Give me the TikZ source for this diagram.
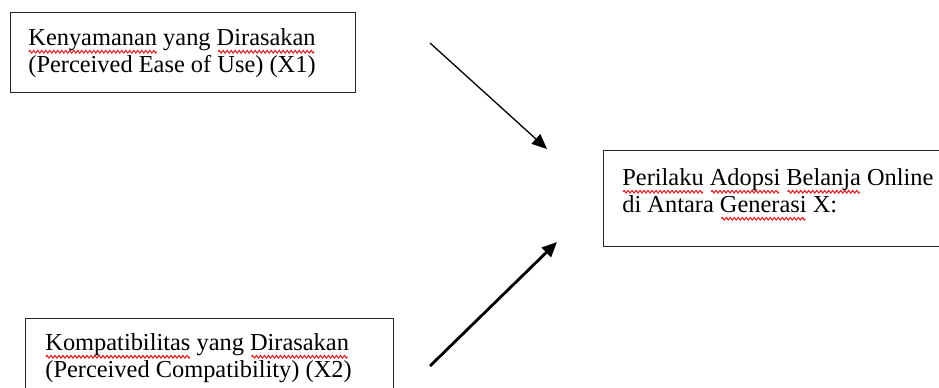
\documentclass[tikz,border=0pt]{standalone}
\usepackage{fontspec}
\setmainfont{Liberation Serif}
\usetikzlibrary{arrows.meta}
\definecolor{wavered}{RGB}{225,35,35}
\newsavebox\wavebox
% red wavy underline for flagged words
\newcommand\flagword[1]{\setbox0=\hbox{#1}\leavevmode
  \rlap{\lower3.2pt\hbox to \wd0{\cleaders\copy\wavebox\hfill}}\box0\relax}
\tikzset{
  frame/.style={draw=black!85, line width=0.6pt, anchor=north west, inner sep=0pt},
  label/.style={anchor=north west, inner sep=0pt, align=left,
                font=\fontsize{12.2}{13.5}\selectfont},
  thinlink/.style={line width=0.65pt, -{Triangle[length=7.5pt,width=6.5pt]}},
  boldlink/.style={line width=1.4pt, -{Triangle[length=7.5pt,width=6.5pt]}}
}
\begin{document}
% one period of the wave, 2pt wide
\savebox\wavebox{\pgfpicture
  \pgfpathrectangle{\pgfpointorigin}{\pgfpoint{2pt}{0pt}}
  \pgfusepath{use as bounding box}
  \pgfsetlinewidth{0.55pt}\pgfsetstrokecolor{wavered}
  \pgfpathmoveto{\pgfpointorigin}
  \pgfpathsine{\pgfpoint{0.5pt}{0.65pt}}
  \pgfpathcosine{\pgfpoint{0.5pt}{-0.65pt}}
  \pgfpathsine{\pgfpoint{0.5pt}{-0.65pt}}
  \pgfpathcosine{\pgfpoint{0.5pt}{0.65pt}}
  \pgfusepath{stroke}
\endpgfpicture}
\begin{tikzpicture}[x=0.5pt,y=-0.5pt]
\useasboundingbox (0,0) rectangle (939,387);
\clip (0,0) rectangle (939,387);
\fill[white] (0,0) rectangle (939,387);

% frames
\node[frame, minimum width=172.5pt, minimum height=40pt] (b1) at (10,12) {};
\node[frame, minimum width=175pt, minimum height=48pt] (b2) at (603,150) {};
\node[frame, minimum width=184pt, minimum height=45pt] (b3) at (25,318) {};

% texts
\node[label] (t1) at (28,28) {\flagword{Kenyamanan} yang \flagword{Dirasakan}\\(Perceived Ease of Use) (X1)};
\node[label] (t2) at (622,168) {\flagword{Perilaku} \flagword{Adopsi} \flagword{Belanja} Online\\di Antara \flagword{Generasi} X:};
\node[label] (t3) at (45,333) {\flagword{Kompatibilitas} yang \flagword{Dirasakan}\\(Perceived Compatibility) (X2)};

% arrow ends
\coordinate (a1s) at (430,43);
\coordinate (a1e) at (547,149);
\coordinate (a2s) at (430,366);
\coordinate (a2e) at (557,242);

\draw[thinlink] (a1s) -- (a1e);
\draw[boldlink] (a2s) -- (a2e);
\end{tikzpicture}
\end{document}
